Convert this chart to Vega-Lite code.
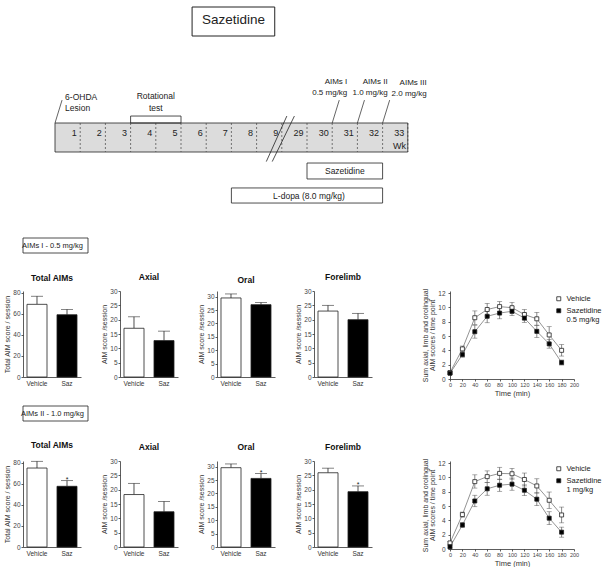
{
  "$schema": "https://vega.github.io/schema/vega-lite/v6.json",
  "background": "white",
  "padding": {"left": 3, "top": 0, "right": 0, "bottom": 0},
  "config": {
    "font": "Liberation Sans",
    "view": {"stroke": null},
    "axis": {"grid": false, "labelOverlap": false, "labelFlush": false, "labelBound": false, "labelSeparation": 0, "domainColor": "#333", "domainWidth": 0.8, "tickColor": "#333", "tickWidth": 0.8, "tickSize": 2, "labelColor": "#444", "labelFontSize": 6.5, "labelPadding": 1, "titleColor": "#333", "titleFontSize": 7, "titleFontWeight": "normal", "titlePadding": 2},
    "title": {"fontSize": 8.5, "fontWeight": "bold", "color": "#111", "offset": 7},
    "text": {"color": "#222"}
  },
  "resolve": {"scale": {"fill": "independent", "color": "independent"}, "legend": {"fill": "independent", "color": "independent"}},
  "datasets": {
    "weeks": [
      {"week": "1", "lane": "bar"}, {"week": "2", "lane": "bar"}, {"week": "3", "lane": "bar"},
      {"week": "4", "lane": "bar"}, {"week": "5", "lane": "bar"}, {"week": "6", "lane": "bar"},
      {"week": "7", "lane": "bar"}, {"week": "8", "lane": "bar"}, {"week": "9", "lane": "bar"},
      {"week": "29", "lane": "bar"}, {"week": "30", "lane": "bar"}, {"week": "31", "lane": "bar"},
      {"week": "32", "lane": "bar"}, {"week": "33", "lane": "bar"}
    ],
    "line1": [
      {"time": 0, "group": "Vehicle", "mean": 0.9, "lo": 0.7, "hi": 1.1},
      {"time": 20, "group": "Vehicle", "mean": 4.2, "lo": 3.8, "hi": 4.6},
      {"time": 40, "group": "Vehicle", "mean": 8.55, "lo": 7.6, "hi": 9.5},
      {"time": 60, "group": "Vehicle", "mean": 9.7, "lo": 8.8, "hi": 10.55},
      {"time": 80, "group": "Vehicle", "mean": 10.1, "lo": 9.35, "hi": 10.8},
      {"time": 100, "group": "Vehicle", "mean": 9.95, "lo": 9.2, "hi": 10.7},
      {"time": 120, "group": "Vehicle", "mean": 9.0, "lo": 8.25, "hi": 9.7},
      {"time": 140, "group": "Vehicle", "mean": 8.4, "lo": 7.5, "hi": 9.3},
      {"time": 160, "group": "Vehicle", "mean": 6.15, "lo": 5.0, "hi": 7.3},
      {"time": 180, "group": "Vehicle", "mean": 4.0, "lo": 3.2, "hi": 4.8},
      {"time": 0, "group": "Sazetidine", "mean": 0.8, "lo": 0.6, "hi": 1.0},
      {"time": 20, "group": "Sazetidine", "mean": 3.4, "lo": 3.05, "hi": 3.75},
      {"time": 40, "group": "Sazetidine", "mean": 6.6, "lo": 5.7, "hi": 7.5},
      {"time": 60, "group": "Sazetidine", "mean": 8.75, "lo": 7.85, "hi": 9.65},
      {"time": 80, "group": "Sazetidine", "mean": 9.2, "lo": 8.4, "hi": 10.0},
      {"time": 100, "group": "Sazetidine", "mean": 9.45, "lo": 8.85, "hi": 10.05},
      {"time": 120, "group": "Sazetidine", "mean": 8.5, "lo": 7.9, "hi": 9.1},
      {"time": 140, "group": "Sazetidine", "mean": 6.65, "lo": 5.8, "hi": 7.5},
      {"time": 160, "group": "Sazetidine", "mean": 4.9, "lo": 4.3, "hi": 5.5},
      {"time": 180, "group": "Sazetidine", "mean": 2.3, "lo": 1.95, "hi": 2.65}
    ],
    "line2": [
      {"time": 0, "group": "Vehicle", "mean": 0.85, "lo": 0.65, "hi": 1.05},
      {"time": 20, "group": "Vehicle", "mean": 4.8, "lo": 4.45, "hi": 5.15},
      {"time": 40, "group": "Vehicle", "mean": 9.4, "lo": 8.5, "hi": 10.35},
      {"time": 60, "group": "Vehicle", "mean": 10.1, "lo": 9.3, "hi": 10.9},
      {"time": 80, "group": "Vehicle", "mean": 10.55, "lo": 9.7, "hi": 11.4},
      {"time": 100, "group": "Vehicle", "mean": 10.5, "lo": 9.75, "hi": 11.25},
      {"time": 120, "group": "Vehicle", "mean": 9.7, "lo": 8.8, "hi": 10.6},
      {"time": 140, "group": "Vehicle", "mean": 8.8, "lo": 7.8, "hi": 9.8},
      {"time": 160, "group": "Vehicle", "mean": 6.8, "lo": 5.65, "hi": 7.95},
      {"time": 180, "group": "Vehicle", "mean": 4.75, "lo": 3.65, "hi": 5.85},
      {"time": 0, "group": "Sazetidine", "mean": 0.3, "lo": 0.15, "hi": 0.45},
      {"time": 20, "group": "Sazetidine", "mean": 3.35, "lo": 3.0, "hi": 3.7},
      {"time": 40, "group": "Sazetidine", "mean": 6.7, "lo": 5.9, "hi": 7.5},
      {"time": 60, "group": "Sazetidine", "mean": 8.4, "lo": 7.5, "hi": 9.3},
      {"time": 80, "group": "Sazetidine", "mean": 8.9, "lo": 8.05, "hi": 9.75},
      {"time": 100, "group": "Sazetidine", "mean": 9.05, "lo": 8.2, "hi": 9.9},
      {"time": 120, "group": "Sazetidine", "mean": 8.2, "lo": 7.45, "hi": 8.95},
      {"time": 140, "group": "Sazetidine", "mean": 6.95, "lo": 6.05, "hi": 7.85},
      {"time": 160, "group": "Sazetidine", "mean": 4.3, "lo": 3.4, "hi": 5.2},
      {"time": 180, "group": "Sazetidine", "mean": 2.35, "lo": 1.65, "hi": 3.05}
    ]
  },
  "spacing": 27,
  "vconcat": [
    {
      "width": 403.2,
      "height": 210,
      "layer": [
        {
          "data": {"values": [{"from": "1", "to": "33", "lane": "bar"}]},
          "mark": {"type": "rect", "fill": "#dcdcdc", "stroke": "#222", "strokeWidth": 0.8},
          "encoding": {
            "x": {"field": "from", "type": "ordinal", "bandPosition": 0, "axis": null,
                  "scale": {"domain": ["1","2","3","4","5","6","7","8","9","29","30","31","32","33"], "paddingInner": 0, "paddingOuter": 1, "align": 0.635}},
            "x2": {"field": "to", "bandPosition": 1},
            "y": {"field": "lane", "type": "ordinal", "axis": null,
                  "scale": {"domain": ["title","blank","aims","labels","bar","saz","ldopa"], "paddingInner": 0, "paddingOuter": 0.1207, "align": 1}}
          }
        },
        {
          "data": {"name": "weeks"},
          "mark": {"type": "rule", "strokeDash": [2, 2], "color": "#444", "strokeWidth": 0.7},
          "encoding": {
            "x": {"field": "week", "type": "ordinal", "bandPosition": 1},
            "y": {"field": "lane", "type": "ordinal", "bandPosition": 0},
            "y2": {"field": "lane", "bandPosition": 1}
          }
        },
        {
          "data": {"name": "weeks"},
          "mark": {"type": "text", "align": "right", "fontSize": 9, "dy": -5},
          "encoding": {
            "x": {"field": "week", "type": "ordinal", "bandPosition": 0.86},
            "y": {"field": "lane", "type": "ordinal"},
            "text": {"field": "week"}
          }
        },
        {
          "data": {"values": [{"week": "33", "lane": "bar", "unit": "Wk"}]},
          "mark": {"type": "text", "align": "right", "fontSize": 9, "dy": 8},
          "encoding": {
            "x": {"field": "week", "type": "ordinal", "bandPosition": 0.93},
            "y": {"field": "lane", "type": "ordinal"},
            "text": {"field": "unit"}
          }
        },
        {
          "data": {"values": [{"a": "9", "b": "29", "top": "labels", "bottom": "saz"}]},
          "mark": {"type": "rule", "color": "#222", "strokeWidth": 0.8},
          "encoding": {
            "x": {"field": "a", "type": "ordinal", "bandPosition": 0.385},
            "x2": {"field": "b", "bandPosition": 0.2},
            "y": {"field": "bottom", "type": "ordinal", "bandPosition": 0.33},
            "y2": {"field": "top", "bandPosition": 0.76}
          }
        },
        {
          "data": {"values": [{"a": "9", "b": "29", "top": "labels", "bottom": "saz"}]},
          "mark": {"type": "rule", "color": "#222", "strokeWidth": 0.8},
          "encoding": {
            "x": {"field": "a", "type": "ordinal", "bandPosition": 0.62},
            "x2": {"field": "b", "bandPosition": 0.5},
            "y": {"field": "bottom", "type": "ordinal", "bandPosition": 0.33},
            "y2": {"field": "top", "bandPosition": 0.76}
          }
        },
        {
          "data": {"values": [{"from": "4", "to": "5", "lane": "labels"}]},
          "mark": {"type": "rect", "fill": "transparent", "stroke": "#222", "strokeWidth": 0.8},
          "encoding": {
            "x": {"field": "from", "type": "ordinal", "bandPosition": 0},
            "x2": {"field": "to", "bandPosition": 1},
            "y": {"field": "lane", "type": "ordinal", "bandPosition": 0.76},
            "y2": {"field": "lane", "bandPosition": 1}
          }
        },
        {
          "data": {"values": [{"week": "1", "lane": "labels"}, {"week": "31", "lane": "labels"}, {"week": "32", "lane": "labels"}, {"week": "33", "lane": "labels"}]},
          "mark": {"type": "rule", "color": "#222", "strokeWidth": 0.7},
          "encoding": {
            "x": {"field": "week", "type": "ordinal", "bandPosition": 0},
            "x2": {"field": "week", "bandPosition": 0.28},
            "y": {"field": "lane", "type": "ordinal", "bandPosition": 1},
            "y2": {"field": "lane", "bandPosition": 0.21}
          }
        },
        {
          "data": {"values": [{"week": "1", "lane": "labels", "text": ["6-OHDA", "Lesion"]}]},
          "mark": {"type": "text", "align": "left", "baseline": "middle", "fontSize": 8.5, "lineHeight": 11, "dy": -11.5},
          "encoding": {
            "x": {"field": "week", "type": "ordinal", "bandPosition": 0.4},
            "y": {"field": "lane", "type": "ordinal"},
            "text": {"field": "text"}
          }
        },
        {
          "data": {"values": [{"week": "5", "lane": "labels", "text": ["Rotational", "test"]}]},
          "mark": {"type": "text", "align": "center", "baseline": "middle", "fontSize": 8.5, "lineHeight": 12, "dy": -12.5},
          "encoding": {
            "x": {"field": "week", "type": "ordinal", "bandPosition": 0},
            "y": {"field": "lane", "type": "ordinal"},
            "text": {"field": "text"}
          }
        },
        {
          "data": {"values": [{"week": "31", "lane": "aims", "text": ["AIMs I", "0.5 mg/kg"]}]},
          "mark": {"type": "text", "align": "right", "baseline": "middle", "fontSize": 8, "lineHeight": 11, "dy": 2.5},
          "encoding": {
            "x": {"field": "week", "type": "ordinal", "bandPosition": 0.6},
            "y": {"field": "lane", "type": "ordinal"},
            "text": {"field": "text"}
          }
        },
        {
          "data": {"values": [{"week": "32", "lane": "aims", "text": ["AIMs II", "1.0 mg/kg"]}]},
          "mark": {"type": "text", "align": "right", "baseline": "middle", "fontSize": 8, "lineHeight": 10.5, "dy": 2.5},
          "encoding": {
            "x": {"field": "week", "type": "ordinal", "bandPosition": 1.2},
            "y": {"field": "lane", "type": "ordinal"},
            "text": {"field": "text"}
          }
        },
        {
          "data": {"values": [{"week": "33", "lane": "aims", "text": ["AIMs III", "2.0 mg/kg"]}]},
          "mark": {"type": "text", "align": "right", "baseline": "middle", "fontSize": 8, "lineHeight": 11, "dy": 3.5},
          "encoding": {
            "x": {"field": "week", "type": "ordinal", "bandPosition": 1.75},
            "y": {"field": "lane", "type": "ordinal"},
            "text": {"field": "text"}
          }
        },
        {
          "data": {"values": [{"from": "6", "to": "9", "lane": "title"}]},
          "mark": {"type": "rect", "fill": "white", "stroke": "#222", "strokeWidth": 1},
          "encoding": {
            "x": {"field": "from", "type": "ordinal", "bandPosition": 0.44},
            "x2": {"field": "to", "bandPosition": 0.72},
            "y": {"field": "lane", "type": "ordinal"}
          }
        },
        {
          "data": {"values": [{"week": "8", "lane": "title", "text": "Sazetidine"}]},
          "mark": {"type": "text", "align": "center", "baseline": "middle", "fontSize": 13.5, "dy": -1.5},
          "encoding": {
            "x": {"field": "week", "type": "ordinal", "bandPosition": 0.08},
            "y": {"field": "lane", "type": "ordinal"},
            "text": {"field": "text"}
          }
        },
        {
          "data": {"values": [{"from": "30", "to": "32", "lane": "saz"}]},
          "mark": {"type": "rect", "fill": "white", "stroke": "#222", "strokeWidth": 0.8},
          "encoding": {
            "x": {"field": "from", "type": "ordinal", "bandPosition": 0},
            "x2": {"field": "to", "bandPosition": 1},
            "y": {"field": "lane", "type": "ordinal", "bandPosition": 0.38},
            "y2": {"field": "lane", "bandPosition": 0.93}
          }
        },
        {
          "data": {"values": [{"week": "31", "lane": "saz", "text": "Sazetidine"}]},
          "mark": {"type": "text", "align": "center", "baseline": "middle", "fontSize": 8.5},
          "encoding": {
            "x": {"field": "week", "type": "ordinal", "bandPosition": 0.5},
            "y": {"field": "lane", "type": "ordinal", "bandPosition": 0.655},
            "text": {"field": "text"}
          }
        },
        {
          "data": {"values": [{"from": "8", "to": "32", "lane": "ldopa"}]},
          "mark": {"type": "rect", "fill": "white", "stroke": "#222", "strokeWidth": 0.8},
          "encoding": {
            "x": {"field": "from", "type": "ordinal", "bandPosition": 0},
            "x2": {"field": "to", "bandPosition": 1},
            "y": {"field": "lane", "type": "ordinal", "bandPosition": 0.24},
            "y2": {"field": "lane", "bandPosition": 0.76}
          }
        },
        {
          "data": {"values": [{"week": "30", "lane": "ldopa", "text": "L-dopa  (8.0 mg/kg)"}]},
          "mark": {"type": "text", "align": "center", "baseline": "middle", "fontSize": 8.5},
          "encoding": {
            "x": {"field": "week", "type": "ordinal", "bandPosition": 0.08},
            "y": {"field": "lane", "type": "ordinal"},
            "text": {"field": "text"}
          }
        }
      ]
    },
    {
      "spacing": 8,
      "resolve": {"scale": {"fill": "independent", "color": "independent"}, "legend": {"fill": "independent", "color": "independent"}},
      "vconcat": [
        {
          "spacing": 18,
          "resolve": {"scale": {"fill": "independent", "color": "independent"}, "legend": {"fill": "independent", "color": "independent"}},
          "vconcat": [
            {
              "width": 71, "height": 15,
              "data": {"values": [{"label": "AIMs I - 0.5 mg/kg"}]},
              "layer": [
                {"mark": {"type": "rect", "fill": "white", "stroke": "#222", "strokeWidth": 0.8, "xOffset": -6, "x2Offset": -6}, "encoding": {}},
                {"mark": {"type": "text", "fontSize": 7.5, "baseline": "middle", "xOffset": -6}, "encoding": {"text": {"field": "label"}}}
              ]
            },
            {
              "spacing": 49,
              "resolve": {"scale": {"fill": "independent", "color": "independent"}, "legend": {"fill": "independent", "color": "independent"}},
              "hconcat": [
                {
                  "spacing": 19,
                  "hconcat": [
                    {
                      "width": 58, "height": 86, "title": {"text": "Total AIMs"},
                      "data": {"values": [{"group": "Vehicle", "mean": 69.2, "err_top": 76.9}, {"group": "Saz", "mean": 59.3, "err_top": 64.4}]},
                      "encoding": {"x": {"field": "group", "type": "nominal", "sort": ["Vehicle", "Saz"], "scale": {"paddingInner": 0.333, "paddingOuter": 0.133}, "axis": {"title": null, "labelAngle": 0, "ticks": false, "labelPadding": 3, "labelColor": "#333"}}},
                      "layer": [
                        {"mark": {"type": "rule", "color": "#222", "strokeWidth": 0.8}, "encoding": {"y": {"field": "mean", "type": "quantitative", "scale": {"domain": [0, 81.9], "nice": false}, "axis": {"tickCount": 5, "labelOverlap": false, "title": "Total AIM score / session"}}, "y2": {"field": "err_top"}}},
                        {"mark": {"type": "tick", "orient": "horizontal", "size": 12, "thickness": 0.8, "color": "#222"}, "encoding": {"y": {"field": "err_top", "type": "quantitative"}}},
                        {"mark": {"type": "bar", "stroke": "#222", "strokeWidth": 0.8}, "encoding": {"y": {"field": "mean", "type": "quantitative"}, "fill": {"field": "group", "type": "nominal", "scale": {"domain": ["Vehicle", "Saz"], "range": ["white", "black"]}, "legend": null}}}
                      ]
                    },
                    {
                      "width": 58, "height": 86, "title": {"text": "Axial"},
                      "data": {"values": [{"group": "Vehicle", "mean": 17, "err_top": 21}, {"group": "Saz", "mean": 12.7, "err_top": 16}]},
                      "encoding": {"x": {"field": "group", "type": "nominal", "sort": ["Vehicle", "Saz"], "scale": {"paddingInner": 0.333, "paddingOuter": 0.133}, "axis": {"title": null, "labelAngle": 0, "ticks": false, "labelPadding": 3, "labelColor": "#333"}}},
                      "layer": [
                        {"mark": {"type": "rule", "color": "#222", "strokeWidth": 0.8}, "encoding": {"y": {"field": "mean", "type": "quantitative", "scale": {"domain": [0, 30], "nice": false}, "axis": {"tickCount": 6, "labelOverlap": false, "title": "AIM score /session"}}, "y2": {"field": "err_top"}}},
                        {"mark": {"type": "tick", "orient": "horizontal", "size": 12, "thickness": 0.8, "color": "#222"}, "encoding": {"y": {"field": "err_top", "type": "quantitative"}}},
                        {"mark": {"type": "bar", "stroke": "#222", "strokeWidth": 0.8}, "encoding": {"y": {"field": "mean", "type": "quantitative"}, "fill": {"field": "group", "type": "nominal", "scale": {"domain": ["Vehicle", "Saz"], "range": ["white", "black"]}, "legend": null}}}
                      ]
                    },
                    {
                      "width": 58, "height": 86, "title": {"text": "Oral"},
                      "data": {"values": [{"group": "Vehicle", "mean": 29.5, "err_top": 31}, {"group": "Saz", "mean": 27, "err_top": 27.8}]},
                      "encoding": {"x": {"field": "group", "type": "nominal", "sort": ["Vehicle", "Saz"], "scale": {"paddingInner": 0.333, "paddingOuter": 0.133}, "axis": {"title": null, "labelAngle": 0, "ticks": false, "labelPadding": 3, "labelColor": "#333"}}},
                      "layer": [
                        {"mark": {"type": "rule", "color": "#222", "strokeWidth": 0.8}, "encoding": {"y": {"field": "mean", "type": "quantitative", "scale": {"domain": [0, 32.1], "nice": false}, "axis": {"tickCount": 6, "labelOverlap": false, "title": "AIM score /session"}}, "y2": {"field": "err_top"}}},
                        {"mark": {"type": "tick", "orient": "horizontal", "size": 12, "thickness": 0.8, "color": "#222"}, "encoding": {"y": {"field": "err_top", "type": "quantitative"}}},
                        {"mark": {"type": "bar", "stroke": "#222", "strokeWidth": 0.8}, "encoding": {"y": {"field": "mean", "type": "quantitative"}, "fill": {"field": "group", "type": "nominal", "scale": {"domain": ["Vehicle", "Saz"], "range": ["white", "black"]}, "legend": null}}}
                      ]
                    },
                    {
                      "width": 58, "height": 86, "title": {"text": "Forelimb"},
                      "data": {"values": [{"group": "Vehicle", "mean": 23, "err_top": 25}, {"group": "Saz", "mean": 20, "err_top": 22.2}]},
                      "encoding": {"x": {"field": "group", "type": "nominal", "sort": ["Vehicle", "Saz"], "scale": {"paddingInner": 0.333, "paddingOuter": 0.133}, "axis": {"title": null, "labelAngle": 0, "ticks": false, "labelPadding": 3, "labelColor": "#333"}}},
                      "layer": [
                        {"mark": {"type": "rule", "color": "#222", "strokeWidth": 0.8}, "encoding": {"y": {"field": "mean", "type": "quantitative", "scale": {"domain": [0, 30], "nice": false}, "axis": {"tickCount": 6, "labelOverlap": false, "title": "AIM score /session"}}, "y2": {"field": "err_top"}}},
                        {"mark": {"type": "tick", "orient": "horizontal", "size": 12, "thickness": 0.8, "color": "#222"}, "encoding": {"y": {"field": "err_top", "type": "quantitative"}}},
                        {"mark": {"type": "bar", "stroke": "#222", "strokeWidth": 0.8}, "encoding": {"y": {"field": "mean", "type": "quantitative"}, "fill": {"field": "group", "type": "nominal", "scale": {"domain": ["Vehicle", "Saz"], "range": ["white", "black"]}, "legend": null}}}
                      ]
                    }
                  ]
                },
                {
                  "width": 124, "height": 88, "title": {"text": " "},
                  "data": {"name": "line1"},
                  "encoding": {"x": {"field": "time", "type": "quantitative", "scale": {"domain": [0, 200], "nice": false}, "axis": {"values": [0, 20, 40, 60, 80, 100, 120, 140, 160, 180, 200], "title": "Time (min)", "labelFontSize": 5.5, "titleFontSize": 7.5, "labelPadding": 1}}},
                  "layer": [
                    {"mark": {"type": "rule", "color": "#555", "strokeWidth": 0.7}, "encoding": {"y": {"field": "lo", "type": "quantitative", "scale": {"domain": [0, 12.28], "nice": false}, "axis": {"tickCount": 6, "labelOverlap": false, "title": ["Sum axial, limb and orolingual", "AIM scores / time point"], "titleLineHeight": 7.5, "labelPadding": 3}}, "y2": {"field": "hi"}}},
                    {"mark": {"type": "tick", "orient": "horizontal", "size": 5, "thickness": 0.7, "color": "#555"}, "encoding": {"y": {"field": "lo", "type": "quantitative"}}},
                    {"mark": {"type": "tick", "orient": "horizontal", "size": 5, "thickness": 0.7, "color": "#555"}, "encoding": {"y": {"field": "hi", "type": "quantitative"}}},
                    {"mark": {"type": "line", "strokeWidth": 0.7, "color": "#666"}, "encoding": {"y": {"field": "mean", "type": "quantitative"}, "detail": {"field": "group", "type": "nominal"}}},
                    {"mark": {"type": "point", "shape": "square", "size": 16, "filled": true, "stroke": "#222", "strokeWidth": 0.8, "opacity": 1}, "encoding": {"y": {"field": "mean", "type": "quantitative"}, "color": {"field": "group", "type": "nominal", "scale": {"domain": ["Vehicle", "Sazetidine"], "range": ["white", "black"]}, "legend": {"title": null, "orient": "none", "legendX": 105, "legendY": 4, "padding": 0, "labelFontSize": 7.5, "labelColor": "#222", "symbolSize": 16, "symbolType": "square", "symbolStrokeColor": "#222", "symbolStrokeWidth": 0.8, "rowPadding": 3, "labelExpr": "datum.label == 'Sazetidine' ? ['Sazetidine', '0.5 mg/kg'] : datum.label"}}}}
                  ]
                }
              ]
            }
          ]
        },
        {
          "spacing": 18,
          "resolve": {"scale": {"fill": "independent", "color": "independent"}, "legend": {"fill": "independent", "color": "independent"}},
          "vconcat": [
            {
              "width": 71, "height": 15,
              "data": {"values": [{"label": "AIMs II - 1.0 mg/kg"}]},
              "layer": [
                {"mark": {"type": "rect", "fill": "white", "stroke": "#222", "strokeWidth": 0.8, "xOffset": -6, "x2Offset": -6}, "encoding": {}},
                {"mark": {"type": "text", "fontSize": 7.5, "baseline": "middle", "xOffset": -6}, "encoding": {"text": {"field": "label"}}}
              ]
            },
            {
              "spacing": 49,
              "resolve": {"scale": {"fill": "independent", "color": "independent"}, "legend": {"fill": "independent", "color": "independent"}},
              "hconcat": [
                {
                  "spacing": 19,
                  "hconcat": [
                    {
                      "width": 58, "height": 86, "title": {"text": "Total AIMs"},
                      "data": {"values": [{"group": "Vehicle", "mean": 75.2, "err_top": 81.6, "sig": ""}, {"group": "Saz", "mean": 57.8, "err_top": 63.2, "sig": "*"}]},
                      "encoding": {"x": {"field": "group", "type": "nominal", "sort": ["Vehicle", "Saz"], "scale": {"paddingInner": 0.333, "paddingOuter": 0.133}, "axis": {"title": null, "labelAngle": 0, "ticks": false, "labelPadding": 3, "labelColor": "#333"}}},
                      "layer": [
                        {"mark": {"type": "rule", "color": "#222", "strokeWidth": 0.8}, "encoding": {"y": {"field": "mean", "type": "quantitative", "scale": {"domain": [0, 81.9], "nice": false}, "axis": {"tickCount": 5, "labelOverlap": false, "title": "Total AIM score / session"}}, "y2": {"field": "err_top"}}},
                        {"mark": {"type": "tick", "orient": "horizontal", "size": 12, "thickness": 0.8, "color": "#222"}, "encoding": {"y": {"field": "err_top", "type": "quantitative"}}},
                        {"mark": {"type": "bar", "stroke": "#222", "strokeWidth": 0.8}, "encoding": {"y": {"field": "mean", "type": "quantitative"}, "fill": {"field": "group", "type": "nominal", "scale": {"domain": ["Vehicle", "Saz"], "range": ["white", "black"]}, "legend": null}}},
                        {"mark": {"type": "text", "fontSize": 7, "baseline": "bottom", "dy": 2}, "encoding": {"y": {"field": "err_top", "type": "quantitative"}, "text": {"field": "sig"}}}
                      ]
                    },
                    {
                      "width": 58, "height": 86, "title": {"text": "Axial"},
                      "data": {"values": [{"group": "Vehicle", "mean": 18.3, "err_top": 22.2}, {"group": "Saz", "mean": 12.3, "err_top": 15.9}]},
                      "encoding": {"x": {"field": "group", "type": "nominal", "sort": ["Vehicle", "Saz"], "scale": {"paddingInner": 0.333, "paddingOuter": 0.133}, "axis": {"title": null, "labelAngle": 0, "ticks": false, "labelPadding": 3, "labelColor": "#333"}}},
                      "layer": [
                        {"mark": {"type": "rule", "color": "#222", "strokeWidth": 0.8}, "encoding": {"y": {"field": "mean", "type": "quantitative", "scale": {"domain": [0, 30], "nice": false}, "axis": {"tickCount": 6, "labelOverlap": false, "title": "AIM score /session"}}, "y2": {"field": "err_top"}}},
                        {"mark": {"type": "tick", "orient": "horizontal", "size": 12, "thickness": 0.8, "color": "#222"}, "encoding": {"y": {"field": "err_top", "type": "quantitative"}}},
                        {"mark": {"type": "bar", "stroke": "#222", "strokeWidth": 0.8}, "encoding": {"y": {"field": "mean", "type": "quantitative"}, "fill": {"field": "group", "type": "nominal", "scale": {"domain": ["Vehicle", "Saz"], "range": ["white", "black"]}, "legend": null}}}
                      ]
                    },
                    {
                      "width": 58, "height": 86, "title": {"text": "Oral"},
                      "data": {"values": [{"group": "Vehicle", "mean": 29.6, "err_top": 31, "sig": ""}, {"group": "Saz", "mean": 25.6, "err_top": 27.4, "sig": "*"}]},
                      "encoding": {"x": {"field": "group", "type": "nominal", "sort": ["Vehicle", "Saz"], "scale": {"paddingInner": 0.333, "paddingOuter": 0.133}, "axis": {"title": null, "labelAngle": 0, "ticks": false, "labelPadding": 3, "labelColor": "#333"}}},
                      "layer": [
                        {"mark": {"type": "rule", "color": "#222", "strokeWidth": 0.8}, "encoding": {"y": {"field": "mean", "type": "quantitative", "scale": {"domain": [0, 32.1], "nice": false}, "axis": {"tickCount": 6, "labelOverlap": false, "title": "AIM score /session"}}, "y2": {"field": "err_top"}}},
                        {"mark": {"type": "tick", "orient": "horizontal", "size": 12, "thickness": 0.8, "color": "#222"}, "encoding": {"y": {"field": "err_top", "type": "quantitative"}}},
                        {"mark": {"type": "bar", "stroke": "#222", "strokeWidth": 0.8}, "encoding": {"y": {"field": "mean", "type": "quantitative"}, "fill": {"field": "group", "type": "nominal", "scale": {"domain": ["Vehicle", "Saz"], "range": ["white", "black"]}, "legend": null}}},
                        {"mark": {"type": "text", "fontSize": 7, "baseline": "bottom", "dy": 2}, "encoding": {"y": {"field": "err_top", "type": "quantitative"}, "text": {"field": "sig"}}}
                      ]
                    },
                    {
                      "width": 58, "height": 86, "title": {"text": "Forelimb"},
                      "data": {"values": [{"group": "Vehicle", "mean": 25.9, "err_top": 27.5, "sig": ""}, {"group": "Saz", "mean": 19.3, "err_top": 21.3, "sig": "*"}]},
                      "encoding": {"x": {"field": "group", "type": "nominal", "sort": ["Vehicle", "Saz"], "scale": {"paddingInner": 0.333, "paddingOuter": 0.133}, "axis": {"title": null, "labelAngle": 0, "ticks": false, "labelPadding": 3, "labelColor": "#333"}}},
                      "layer": [
                        {"mark": {"type": "rule", "color": "#222", "strokeWidth": 0.8}, "encoding": {"y": {"field": "mean", "type": "quantitative", "scale": {"domain": [0, 30], "nice": false}, "axis": {"tickCount": 6, "labelOverlap": false, "title": "AIM score /session"}}, "y2": {"field": "err_top"}}},
                        {"mark": {"type": "tick", "orient": "horizontal", "size": 12, "thickness": 0.8, "color": "#222"}, "encoding": {"y": {"field": "err_top", "type": "quantitative"}}},
                        {"mark": {"type": "bar", "stroke": "#222", "strokeWidth": 0.8}, "encoding": {"y": {"field": "mean", "type": "quantitative"}, "fill": {"field": "group", "type": "nominal", "scale": {"domain": ["Vehicle", "Saz"], "range": ["white", "black"]}, "legend": null}}},
                        {"mark": {"type": "text", "fontSize": 7, "baseline": "bottom", "dy": 2}, "encoding": {"y": {"field": "err_top", "type": "quantitative"}, "text": {"field": "sig"}}}
                      ]
                    }
                  ]
                },
                {
                  "width": 124, "height": 88, "title": {"text": " "},
                  "data": {"name": "line2"},
                  "encoding": {"x": {"field": "time", "type": "quantitative", "scale": {"domain": [0, 200], "nice": false}, "axis": {"values": [0, 20, 40, 60, 80, 100, 120, 140, 160, 180, 200], "title": "Time (min)", "labelFontSize": 5.5, "titleFontSize": 7.5, "labelPadding": 1}}},
                  "layer": [
                    {"mark": {"type": "rule", "color": "#555", "strokeWidth": 0.7}, "encoding": {"y": {"field": "lo", "type": "quantitative", "scale": {"domain": [0, 12.28], "nice": false}, "axis": {"tickCount": 6, "labelOverlap": false, "title": ["Sum axial, limb and orolingual", "AIM scores / time point"], "titleLineHeight": 7.5, "labelPadding": 3}}, "y2": {"field": "hi"}}},
                    {"mark": {"type": "tick", "orient": "horizontal", "size": 5, "thickness": 0.7, "color": "#555"}, "encoding": {"y": {"field": "lo", "type": "quantitative"}}},
                    {"mark": {"type": "tick", "orient": "horizontal", "size": 5, "thickness": 0.7, "color": "#555"}, "encoding": {"y": {"field": "hi", "type": "quantitative"}}},
                    {"mark": {"type": "line", "strokeWidth": 0.7, "color": "#666"}, "encoding": {"y": {"field": "mean", "type": "quantitative"}, "detail": {"field": "group", "type": "nominal"}}},
                    {"mark": {"type": "point", "shape": "square", "size": 16, "filled": true, "stroke": "#222", "strokeWidth": 0.8, "opacity": 1}, "encoding": {"y": {"field": "mean", "type": "quantitative"}, "color": {"field": "group", "type": "nominal", "scale": {"domain": ["Vehicle", "Sazetidine"], "range": ["white", "black"]}, "legend": {"title": null, "orient": "none", "legendX": 105, "legendY": 4, "padding": 0, "labelFontSize": 7.5, "labelColor": "#222", "symbolSize": 16, "symbolType": "square", "symbolStrokeColor": "#222", "symbolStrokeWidth": 0.8, "rowPadding": 3, "labelExpr": "datum.label == 'Sazetidine' ? ['Sazetidine', '1 mg/kg'] : datum.label"}}}}
                  ]
                }
              ]
            }
          ]
        }
      ]
    }
  ]
}
